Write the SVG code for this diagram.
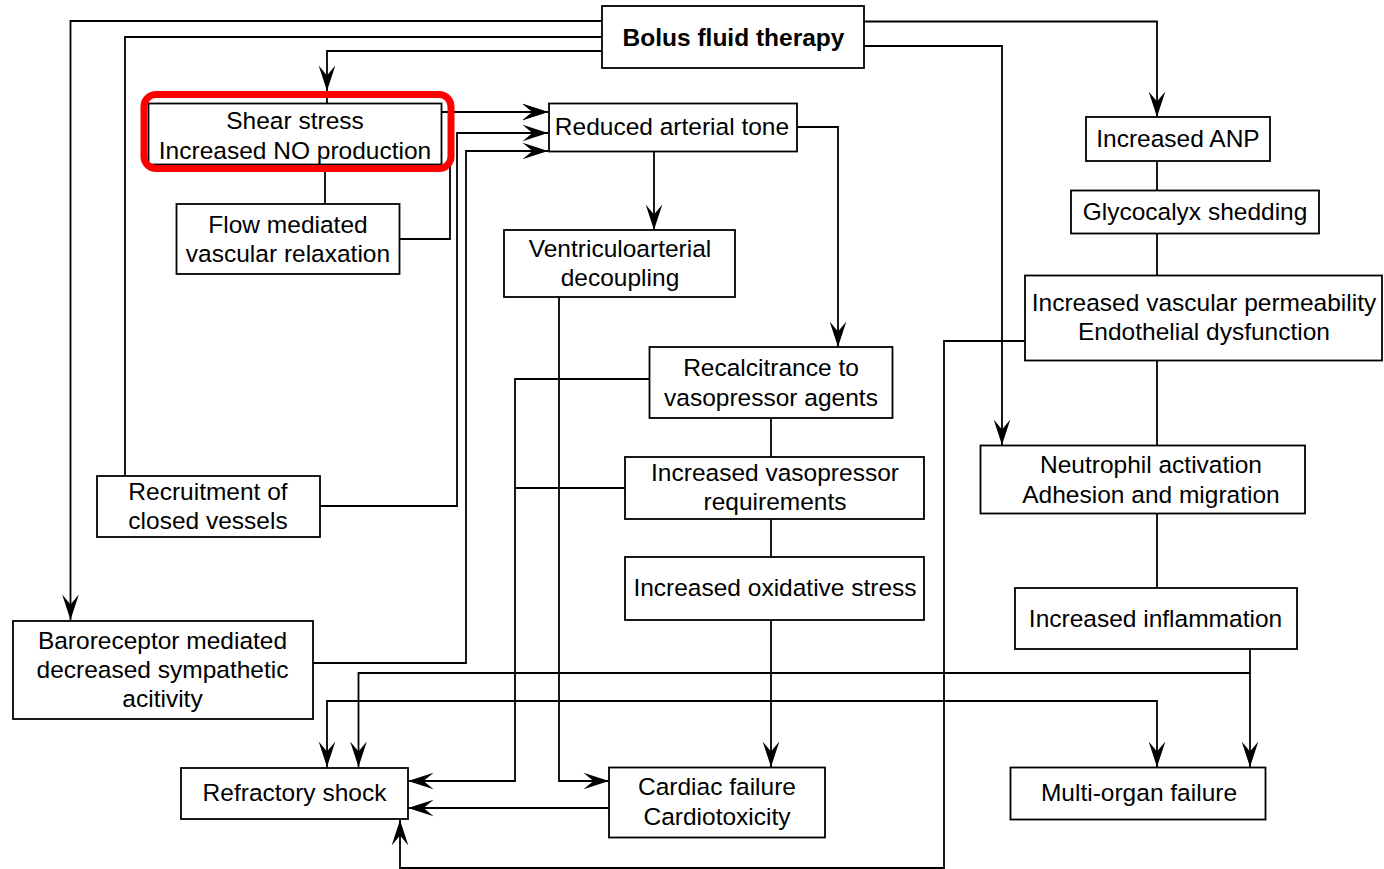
<svg xmlns="http://www.w3.org/2000/svg" width="1384" height="869" viewBox="0 0 1384 869">
<style>
.box{fill:#fff;stroke:#000;stroke-width:1.8}
.t{font-family:"Liberation Sans",Arial,Helvetica,sans-serif;font-size:24.5px;fill:#000;text-anchor:middle}
.b{font-weight:bold}
.c{fill:none;stroke:#000;stroke-width:1.8}
.a{marker-end:url(#ah)}
.hl{fill:none;stroke:#f00;stroke-width:7}
</style>
<defs>
<marker id="ah" markerUnits="userSpaceOnUse" markerWidth="30" markerHeight="20" refX="0" refY="0" viewBox="-24 -9 25 18" orient="auto" overflow="visible">
<path d="M0,0 L-23,-7.5 L-14,0 L-23,7.5 Z" fill="#000"/>
</marker>
</defs>
<rect width="1384" height="869" fill="#fff"/>
<g id="connectors">
<path class="c a" d="M602,21 H70.5 V620"/>
<path class="c" d="M602,37 H125 V476"/>
<path class="c a" d="M602,51 H327 V91"/>
<path class="c" d="M327,91 V103"/>
<path class="c a" d="M864,21.5 H1157 V117"/>
<path class="c a" d="M864,46 H1002 V445"/>
<path class="c" d="M325,164 V204"/>
<path class="c a" d="M399,239 H450 V112 H548"/>
<path class="c a" d="M441,112 H548"/>
<path class="c a" d="M320,506 H457 V133 H548"/>
<path class="c a" d="M313,663 H466 V151 H548"/>
<path class="c a" d="M654,152 V230"/>
<path class="c a" d="M797,127 H838 V347"/>
<path class="c a" d="M559,297 V781 H609"/>
<path class="c a" d="M649,379 H515 V781 H408"/>
<path class="c" d="M625,488 H515"/>
<path class="c" d="M771,418 V457"/>
<path class="c" d="M771,519 V557"/>
<path class="c a" d="M771,620 V767"/>
<path class="c a" d="M609,808 H408"/>
<path class="c a" d="M1025,341 H944 V868 H400 V820"/>
<path class="c" d="M1157,161 V190"/>
<path class="c" d="M1157,233 V275"/>
<path class="c" d="M1157,361 V445"/>
<path class="c" d="M1157,513 V588"/>
<path class="c a" d="M1250,649 V767"/>
<path class="c a" d="M1250,673 H358.5 V767"/>
<path class="c a" d="M944,701 H327 V767"/>
<path class="c a" d="M944,701 H1157 V767"/>
</g>
<g id="bolus"><rect class="box" x="602" y="6" width="262" height="62"/><text class="t b" x="733.5" y="45.5">Bolus fluid therapy</text></g>
<g id="shear"><rect class="box" x="148.5" y="103.5" width="293" height="61"/><text class="t" x="295" y="129">Shear stress</text><text class="t" x="295" y="159">Increased NO production</text></g>
<g id="reduced"><rect class="box" x="549" y="103.5" width="248" height="48"/><text class="t" x="672" y="135">Reduced arterial tone</text></g>
<g id="flow"><rect class="box" x="176.5" y="204" width="223" height="70"/><text class="t" x="288" y="232.5">Flow mediated</text><text class="t" x="288" y="261.5">vascular relaxation</text></g>
<g id="ventriculo"><rect class="box" x="504" y="230" width="231" height="67"/><text class="t" x="620" y="256.5">Ventriculoarterial</text><text class="t" x="620" y="286">decoupling</text></g>
<g id="recalcitrance"><rect class="box" x="649.5" y="347" width="243" height="71"/><text class="t" x="771" y="376">Recalcitrance to</text><text class="t" x="771" y="405.5">vasopressor agents</text></g>
<g id="vasopressor"><rect class="box" x="625" y="457" width="299" height="62"/><text class="t" x="775" y="481">Increased vasopressor</text><text class="t" x="775" y="510">requirements</text></g>
<g id="oxidative"><rect class="box" x="625" y="557" width="299" height="63"/><text class="t" x="775" y="596">Increased oxidative stress</text></g>
<g id="recruitment"><rect class="box" x="97" y="476" width="223" height="61"/><text class="t" x="208" y="499.5">Recruitment of</text><text class="t" x="208" y="528.5">closed vessels</text></g>
<g id="baroreceptor"><rect class="box" x="13" y="621" width="300" height="98"/><text class="t" x="162.5" y="648.5">Baroreceptor mediated</text><text class="t" x="162.5" y="677.5">decreased sympathetic</text><text class="t" x="162.5" y="707">acitivity</text></g>
<g id="refractory"><rect class="box" x="181" y="768" width="227" height="51"/><text class="t" x="294.5" y="801">Refractory shock</text></g>
<g id="cardiac"><rect class="box" x="609" y="767.5" width="216" height="70"/><text class="t" x="717" y="795">Cardiac failure</text><text class="t" x="717" y="825">Cardiotoxicity</text></g>
<g id="multiorgan"><rect class="box" x="1010.5" y="767.5" width="255" height="52"/><text class="t" x="1139" y="801">Multi-organ failure</text></g>
<g id="anp"><rect class="box" x="1086" y="117" width="184" height="44"/><text class="t" x="1178" y="147">Increased ANP</text></g>
<g id="glycocalyx"><rect class="box" x="1071" y="190.5" width="248" height="43"/><text class="t" x="1195" y="220">Glycocalyx shedding</text></g>
<g id="endothelial"><rect class="box" x="1025" y="275.5" width="357" height="85"/><text class="t" x="1204" y="311">Increased vascular permeability</text><text class="t" x="1204" y="340">Endothelial dysfunction</text></g>
<g id="neutrophil"><rect class="box" x="980.5" y="445.5" width="324.5" height="68"/><text class="t" x="1151" y="473">Neutrophil activation</text><text class="t" x="1151" y="502.5">Adhesion and migration</text></g>
<g id="inflammation"><rect class="box" x="1015" y="588" width="282" height="61"/><text class="t" x="1155.5" y="627">Increased inflammation</text></g>
<g id="highlight"><rect class="hl" x="144" y="94.5" width="307" height="74" rx="12" ry="12"/></g>
</svg>
